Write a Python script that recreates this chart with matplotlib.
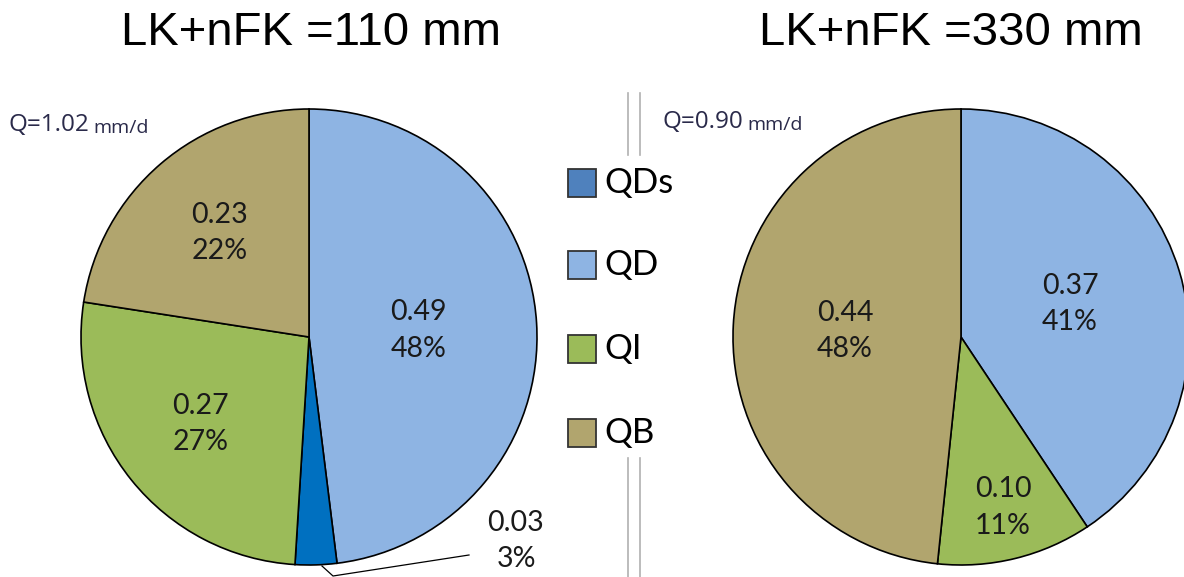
import matplotlib
matplotlib.use("Agg")
import matplotlib.pyplot as plt
import numpy as np
from matplotlib.patches import Rectangle

W, H = 1184, 577

categories = ["QDs", "QD", "QI", "QB"]
legend_colors = ["#4F81BD", "#8EB4E3", "#9BBB59", "#B1A56E"]
pie_colors = {"QDs": "#0070C0", "QD": "#8EB4E3", "QI": "#9BBB59", "QB": "#B1A56E"}

# left pie (LK+nFK = 110 mm), clockwise from 12 o'clock
left_order = ["QD", "QDs", "QI", "QB"]
left_values = [0.49, 0.03, 0.27, 0.23]
left_pcts = ["48%", "3%", "27%", "22%"]
left_q = "Q=1.02"
left_unit = "mm/d"
left_title = "LK+nFK =110 mm"

# right pie (LK+nFK = 330 mm)
right_order = ["QD", "QI", "QB"]
right_values = [0.37, 0.10, 0.44]
right_pcts = ["41%", "11%", "48%"]
right_q = "Q=0.90"
right_unit = "mm/d"
right_title = "LK+nFK =330 mm"

fig = plt.figure(figsize=(W / 100, H / 100), dpi=100)
ax = fig.add_axes([0, 0, 1, 1])

def Y(y):
    return H - y

R = 228
lab_font = dict(family=["Lato", "DejaVu Sans"], fontsize=20.5, color="#1a1a1a",
                ha="center", va="center", linespacing=1.5)

def draw_pie(cx, cy, order, values, pcts, label_r):
    wedges, _ = ax.pie(values, colors=[pie_colors[c] for c in order],
                       startangle=90, counterclock=False, center=(cx, Y(cy)),
                       radius=R, frame=True,
                       wedgeprops=dict(edgecolor="black", linewidth=1.2))
    for w, v, p, lr in zip(wedges, values, pcts, label_r):
        if lr is None:
            continue
        mid = np.deg2rad((w.theta1 + w.theta2) / 2)
        x = cx + lr * R * np.cos(mid)
        y = Y(cy) + lr * R * np.sin(mid)
        ax.text(x, y, f"{v:.2f}\n{p}", **lab_font)

draw_pie(309, 337, left_order, left_values, left_pcts, [0.48, None, 0.61, 0.6])
draw_pie(961, 337, right_order, right_values, right_pcts, [0.5, 0.77, 0.51])

ax.set_xlim(0, W)
ax.set_ylim(0, H)
ax.set_aspect("equal")
ax.axis("off")

# small slice outside label with leader
ax.plot([322, 333, 469], [Y(566), Y(576), Y(555)], color="black", lw=0.9)
ax.text(516, Y(541), f"{left_values[1]:.2f}\n{left_pcts[1]}", **lab_font)

# titles
tfont = dict(family=["Liberation Sans", "DejaVu Sans"], fontsize=34, ha="center", va="center")
ax.text(311, Y(33), left_title, **tfont)
ax.text(951, Y(33), right_title, **tfont)

# Q totals
qcol = "#2a2a4a"
for x0, y0, q, u in ((8, 137, left_q, left_unit), (662, 134, right_q, right_unit)):
    t = ax.text(x0, Y(y0), q, family=["Open Sans", "DejaVu Sans"], fontsize=17.5,
                color=qcol, ha="left", va="bottom")
    ax.annotate(u, xy=(1, 0), xycoords=t, xytext=(3, 0), textcoords="offset points",
                family=["Open Sans", "DejaVu Sans"], fontsize=14, color=qcol,
                ha="left", va="bottom")

# separator double lines
for x in (628, 640):
    ax.plot([x, x], [Y(93), Y(155)], color="#b0b0b0", lw=1.2)
    ax.plot([x, x], [Y(458), Y(577)], color="#b0b0b0", lw=1.2)

# legend
leg_y = [183, 265, 349, 433]
for cat, col, ly in zip(categories, legend_colors, leg_y):
    ax.add_patch(Rectangle((568, Y(ly) - 14), 28, 28, facecolor=col,
                           edgecolor="#333333", lw=1.3))
    ax.text(604, Y(ly), cat, family=["Lato", "DejaVu Sans"], fontsize=25,
            ha="left", va="center", color="black")

fig.savefig("out.png", dpi=100)
